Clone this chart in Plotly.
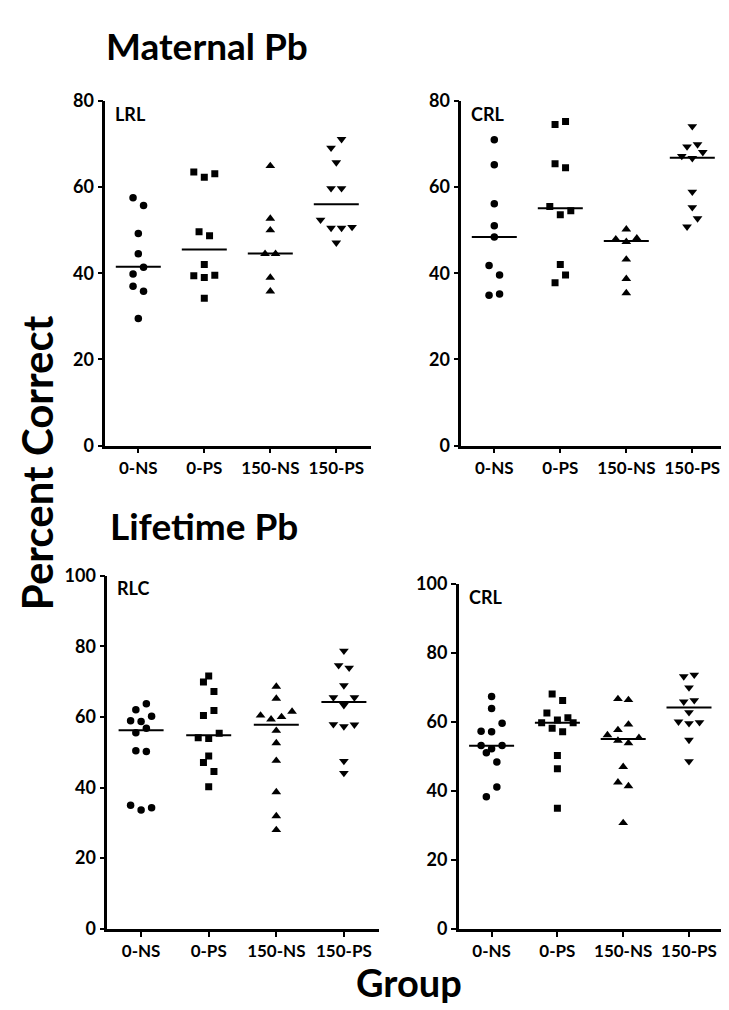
import plotly.graph_objects as go
import numpy as np

W, H = 729, 1010

groups = ["0-NS", "0-PS", "150-NS", "150-PS"]
symbols = ["circle", "square", "triangle-up", "triangle-down"]
marker_sizes = [7.5, 7, 8.5, 8.5]

# ---- Maternal Pb, LRL (percent correct) ----
lrl_0ns = [57.5, 55.7, 49.2, 44.5, 39.8, 41.4, 37.0, 35.8, 29.5]
lrl_0ps = [63.5, 62.3, 63.1, 49.6, 48.7, 42.0, 39.4, 39.0, 39.5, 34.2]
lrl_150ns = [64.9, 52.7, 50.0, 44.5, 44.5, 39.0, 35.8]
lrl_150ps = [69.1, 71.1, 65.7, 59.7, 59.7, 52.4, 50.5, 50.5, 50.7, 47.1]
lrl_medians = [41.5, 45.5, 44.6, 56.0]

# ---- Maternal Pb, CRL ----
mcrl_0ns = [71.0, 65.2, 56.1, 51.0, 48.4, 41.8, 39.6, 34.9, 35.2]
mcrl_0ps = [74.5, 75.2, 65.4, 64.5, 55.5, 53.6, 54.5, 42.0, 37.8, 39.6]
mcrl_150ns = [50.2, 47.9, 47.3, 48.1, 43.2, 38.7, 35.4]
mcrl_150ps = [74.1, 69.4, 69.9, 67.2, 66.7, 68.1, 58.9, 55.3, 50.8, 52.7]
mcrl_medians = [48.4, 55.1, 47.5, 66.8]

# ---- Lifetime Pb, RLC ----
rlc_0ns = [62.0, 63.7, 58.9, 58.7, 60.2, 55.5, 56.8, 50.4, 50.2, 35.0, 33.6, 34.3]
rlc_0ps = [71.6, 69.9, 67.2, 60.4, 61.8, 54.1, 53.9, 55.4, 48.9, 47.1, 44.5, 40.2]
rlc_150ns = [68.6, 65.2, 60.4, 59.3, 60.0, 61.5, 56.1, 52.6, 47.6, 38.7, 31.9, 28.0]
rlc_150ps = [78.7, 74.6, 73.9, 68.9, 65.5, 63.3, 65.5, 57.9, 57.3, 57.8, 47.5, 44.1]
rlc_medians = [56.2, 54.8, 57.8, 64.2]

# ---- Lifetime Pb, CRL ----
lcrl_0ns = [67.4, 63.9, 57.3, 57.2, 59.6, 53.2, 52.2, 53.2, 51.1, 48.4, 38.3, 41.1]
lcrl_0ps = [68.1, 66.2, 62.6, 60.6, 61.2, 59.8, 58.2, 57.2, 59.8, 50.3, 46.4, 35.0]
lcrl_150ns = [66.7, 66.4, 57.7, 59.3, 56.2, 54.6, 53.9, 55.4, 47.0, 42.5, 41.4, 30.7]
lcrl_150ps = [73.2, 73.7, 70.0, 65.9, 66.3, 62.8, 60.1, 59.6, 59.9, 54.8, 48.6]
lcrl_medians = [53.1, 59.8, 55.1, 64.2]

panel_labels = ["LRL", "CRL", "RLC", "CRL"]
panel_data = [
    [lrl_0ns, lrl_0ps, lrl_150ns, lrl_150ps],
    [mcrl_0ns, mcrl_0ps, mcrl_150ns, mcrl_150ps],
    [rlc_0ns, rlc_0ps, rlc_150ns, rlc_150ps],
    [lcrl_0ns, lcrl_0ps, lcrl_150ns, lcrl_150ps],
]
panel_medians = [lrl_medians, mcrl_medians, rlc_medians, lcrl_medians]
y_max = [80, 80, 100, 100]

# layout geometry (pixels): left, category spacing, top, bottom
X_RANGE = [-0.5, 3.52]
geom = [
    dict(left=97.3, cat=66.0, top=82.7, bottom=435.0),
    dict(left=453.3, cat=66.0, top=82.7, bottom=435.0),
    dict(left=99.3, cat=67.6, top=568.0, bottom=929.0),
    dict(left=450.7, cat=65.8, top=576.7, bottom=929.0),
]
STEP_PX = 10.5      # horizontal spacing of side-by-side points
ROW_PX = 10.6       # points closer than this (vertically) share a row
MED_HALF_PX = 22.5  # half width of the median bar

FONT = "Lato, 'Open Sans', sans-serif"


def swarm_offsets(values, px_per_unit):
    order = sorted(range(len(values)), key=lambda i: (values[i], i))
    rows = []
    for i in order:
        if rows and (values[i] - values[rows[-1][0]]) * px_per_unit <= ROW_PX:
            rows[-1].append(i)
        else:
            rows.append([i])
    slots = [0.0] * len(values)
    for r in rows:
        r = sorted(r)
        n = len(r)
        for k, i in enumerate(r):
            slots[i] = k - (n - 1) / 2.0
    return slots


fig = go.Figure()

for p in range(4):
    g = geom[p]
    width_px = (X_RANGE[1] - X_RANGE[0]) * g["cat"]
    x0 = g["left"] / W
    x1 = (g["left"] + width_px) / W
    y0 = 1 - g["bottom"] / H
    y1 = 1 - g["top"] / H
    px_per_unit = (g["bottom"] - g["top"]) / y_max[p]
    sfx = "" if p == 0 else str(p + 1)
    xa, ya = "x" + sfx, "y" + sfx

    for gi, vals in enumerate(panel_data[p]):
        slots = swarm_offsets(vals, px_per_unit)
        xs = [gi + s * STEP_PX / g["cat"] for s in slots]
        fig.add_trace(go.Scatter(
            x=xs, y=vals, mode="markers", xaxis=xa, yaxis=ya,
            marker=dict(symbol=symbols[gi], size=marker_sizes[gi], color="black",
                        line=dict(width=0)),
            showlegend=False, hoverinfo="y"))
        m = panel_medians[p][gi]
        hw = MED_HALF_PX / g["cat"]
        fig.add_trace(go.Scatter(
            x=[gi - hw, gi + hw], y=[m, m], mode="lines", xaxis=xa, yaxis=ya,
            line=dict(color="black", width=2), showlegend=False, hoverinfo="skip"))

    axis_common = dict(showline=True, linecolor="black", linewidth=2.5, mirror=False,
                       ticks="outside", ticklen=5, tickwidth=2, tickcolor="black",
                       showgrid=False, zeroline=False)
    xfont = dict(family=FONT, size=17, color="black", weight="bold")
    yfont = dict(family=FONT, size=18, color="black", weight="bold")
    fig.update_layout(**{
        ("xaxis" + sfx): dict(domain=[x0, x1], range=X_RANGE, anchor=ya,
                              tickvals=list(range(4)), ticktext=groups,
                              tickfont=xfont, **axis_common),
        ("yaxis" + sfx): dict(domain=[y0, y1], range=[0, y_max[p]], anchor=xa,
                              tickvals=list(range(0, y_max[p] + 1, 20)),
                              tickfont=yfont, **axis_common),
    })
    fig.add_annotation(text="<b>%s</b>" % panel_labels[p], xref="paper", yref="paper",
                       x=(g["left"] + 8) / W, y=y1 - 13 / H, xanchor="left", yanchor="middle",
                       showarrow=False, font=dict(family=FONT, size=18, color="black"))

fig.add_annotation(text="<b>Maternal Pb</b>", xref="paper", yref="paper",
                   x=96 / W, y=1 - 26 / H, xanchor="left", yanchor="middle",
                   showarrow=False, font=dict(family=FONT, size=37, color="black"))
fig.add_annotation(text="<b>Lifetime Pb</b>", xref="paper", yref="paper",
                   x=100 / W, y=1 - 517 / H, xanchor="left", yanchor="middle",
                   showarrow=False, font=dict(family=FONT, size=37, color="black"))
fig.add_annotation(text="<b>Group</b>", xref="paper", yref="paper",
                   x=401 / W, y=1 - 983 / H, xanchor="center", yanchor="middle",
                   showarrow=False, font=dict(family=FONT, size=38, color="black"))
fig.add_annotation(text="<b>Percent Correct</b>", xref="paper", yref="paper",
                   x=29 / W, y=1 - 453 / H, xanchor="center", yanchor="middle",
                   textangle=-90, showarrow=False,
                   font=dict(family=FONT, size=42, color="black"))

fig.update_layout(width=W, height=H, margin=dict(l=0, r=0, t=0, b=0),
                  paper_bgcolor="white", plot_bgcolor="white",
                  font=dict(family=FONT, color="black"))

fig.write_html("out.html")
